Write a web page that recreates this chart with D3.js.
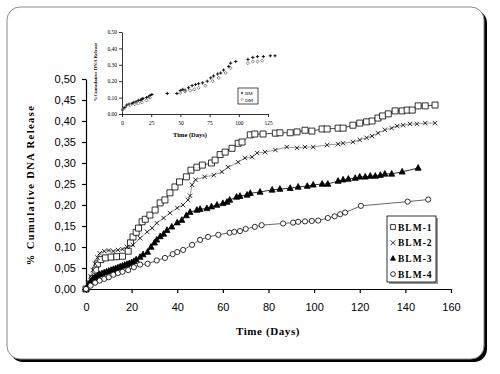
<!DOCTYPE html>
<html>
<head>
<meta charset="utf-8">
<script src="https://cdn.jsdelivr.net/npm/d3@7/dist/d3.min.js"></script>
<style>
  body { margin: 0; background: #fff; }
  svg { display: block; }
</style>
</head>
<body>
<div id="chart"></div>
<script>
var w = 500, h = 374;

// main chart data (days, cumulative fraction)
var blm1Days = [0, 1.5, 3, 4.2, 5, 6.5, 8.5, 11, 13.5, 16, 18.5, 19.5, 20.6, 22, 23, 24.6, 26, 28, 30.3, 32.5, 34.6, 36.8, 39, 41, 44, 46, 48.6, 51, 55, 56.6, 58.8, 61, 64, 66.7, 68.4, 72, 74, 77.6, 83, 85, 89.5, 92.5, 96, 99, 103.5, 105.7, 110.5, 112.7, 117, 120, 123, 125.4, 128, 130, 132.5, 135.5, 138.6, 140.8, 143, 145.6, 148.7, 153];
var blm1Vals = [0, 0.012, 0.025, 0.045, 0.06, 0.07, 0.074, 0.076, 0.077, 0.078, 0.09, 0.11, 0.124, 0.135, 0.145, 0.16, 0.166, 0.176, 0.188, 0.205, 0.212, 0.229, 0.243, 0.255, 0.267, 0.283, 0.29, 0.295, 0.30, 0.307, 0.32, 0.326, 0.335, 0.347, 0.35, 0.367, 0.369, 0.369, 0.371, 0.372, 0.372, 0.374, 0.378, 0.376, 0.381, 0.381, 0.383, 0.383, 0.39, 0.395, 0.398, 0.40, 0.407, 0.412, 0.417, 0.424, 0.424, 0.426, 0.426, 0.436, 0.436, 0.438];

var blm2Days = [0, 1, 2, 3, 4, 5, 6, 8, 10, 12, 14, 16, 18, 20.6, 23.7, 26.8, 29, 31, 34, 36.8, 40, 42.5, 44.7, 45.6, 46.5, 48, 52, 56, 59.6, 62.3, 66.7, 69.7, 72.8, 75, 78.5, 83, 88, 92.5, 96, 99.6, 105.7, 110.5, 112.7, 117, 120, 123, 125.4, 128, 131, 134, 136.4, 139, 142, 145, 148.7, 153];
var blm2Vals = [0, 0.015, 0.03, 0.045, 0.06, 0.075, 0.085, 0.09, 0.092, 0.09, 0.093, 0.095, 0.1, 0.105, 0.121, 0.136, 0.145, 0.157, 0.169, 0.181, 0.193, 0.2, 0.212, 0.222, 0.248, 0.26, 0.267, 0.271, 0.279, 0.29, 0.302, 0.312, 0.314, 0.324, 0.326, 0.331, 0.338, 0.336, 0.338, 0.338, 0.343, 0.345, 0.347, 0.35, 0.355, 0.36, 0.364, 0.371, 0.379, 0.383, 0.388, 0.39, 0.393, 0.393, 0.395, 0.395];

var blm3Days = [0, 1, 2, 3, 4, 5, 6, 7, 8, 9, 10, 11, 12, 13, 14, 15, 16, 17, 18, 19, 20, 21, 22, 23.7, 25, 27, 28.5, 30, 31, 32.5, 34, 35.5, 37.6, 40, 42, 44, 45.6, 48.6, 50, 53, 55, 57.4, 60, 61.8, 63, 66, 67.5, 70.6, 72, 76.3, 81.6, 85, 89.5, 93, 97, 99.6, 103.5, 106, 110.5, 112.7, 115, 118, 120, 122.4, 124.6, 126.8, 129, 131, 134, 138.6, 145.6];
var blm3Vals = [0, 0.01, 0.018, 0.024, 0.028, 0.032, 0.035, 0.037, 0.039, 0.041, 0.043, 0.045, 0.047, 0.049, 0.051, 0.053, 0.055, 0.057, 0.059, 0.061, 0.063, 0.066, 0.07, 0.076, 0.082, 0.088, 0.1, 0.11, 0.117, 0.125, 0.131, 0.14, 0.148, 0.158, 0.164, 0.175, 0.183, 0.188, 0.19, 0.192, 0.196, 0.2, 0.204, 0.207, 0.212, 0.219, 0.221, 0.224, 0.228, 0.231, 0.236, 0.238, 0.24, 0.243, 0.245, 0.248, 0.25, 0.25, 0.257, 0.26, 0.262, 0.264, 0.267, 0.267, 0.269, 0.269, 0.271, 0.274, 0.274, 0.279, 0.288];

var blm4Days = [0, 2, 4, 6, 8, 10, 12, 14, 16, 18.5, 21, 23.7, 27, 31, 34.6, 38, 40, 42.6, 46.5, 50, 53.5, 58, 63, 65, 67.5, 70, 74, 77, 86.4, 90.8, 93, 96, 99, 101.8, 106, 109, 111.4, 113.6, 120.5, 141, 150];
var blm4Vals = [0, 0.008, 0.015, 0.02, 0.024, 0.028, 0.034, 0.038, 0.041, 0.045, 0.052, 0.058, 0.06, 0.068, 0.074, 0.083, 0.088, 0.093, 0.105, 0.117, 0.124, 0.129, 0.134, 0.136, 0.138, 0.143, 0.148, 0.152, 0.156, 0.158, 0.16, 0.161, 0.162, 0.163, 0.169, 0.173, 0.178, 0.182, 0.198, 0.208, 0.213];

var seriesNames = ["BLM-1", "BLM-2", "BLM-3", "BLM-4"];
var xTicks = [0, 20, 40, 60, 80, 100, 120, 140, 160];
var yTicks = [0, 0.05, 0.10, 0.15, 0.20, 0.25, 0.30, 0.35, 0.40, 0.45, 0.50];

// inset data
var insetADays = [1, 2.5, 4, 6, 8.6, 10, 12, 14, 16, 17, 18, 21, 23, 24, 25.6, 38.8, 47, 50, 52, 54, 57, 60, 63, 65.6, 69, 73, 76, 78.4, 81.9, 84.5, 87, 91.4, 93, 97.4, 107.8, 112, 116, 121, 127, 131];
var insetAVals = [0.036, 0.04, 0.054, 0.06, 0.065, 0.07, 0.075, 0.083, 0.085, 0.09, 0.095, 0.1, 0.105, 0.113, 0.119, 0.125, 0.125, 0.143, 0.15, 0.145, 0.16, 0.173, 0.18, 0.185, 0.19, 0.2, 0.22, 0.232, 0.244, 0.25, 0.268, 0.29, 0.31, 0.32, 0.333, 0.345, 0.35, 0.35, 0.355, 0.355];
var insetBDays = [0.5, 1, 7, 11, 14, 17, 21, 24, 50, 54, 58.6, 62, 65.6, 71.5, 77.6, 82.8, 88.8, 93, 107.8, 112, 116, 120];
var insetBVals = [0.025, 0.03, 0.054, 0.06, 0.065, 0.071, 0.083, 0.1, 0.13, 0.137, 0.143, 0.15, 0.16, 0.173, 0.2, 0.22, 0.25, 0.28, 0.31, 0.32, 0.32, 0.325];
var insetNames = ["BM", "DM"];
var insetXTicks = [0, 25, 50, 75, 100, 125];
var insetYTicks = [0, 0.1, 0.2, 0.3, 0.4, 0.5];

var serif = "'Liberation Serif', 'Times New Roman', serif";
var sans = "'Liberation Sans', Arial, sans-serif";
var fmt = function(d) { return d.toFixed(2).replace(".", ","); };

var svg = d3.select("#chart").append("svg")
    .attr("width", w)
    .attr("height", h);

// chart area with rounded corners and black drop shadow
svg.append("rect")
    .attr("x", 10).attr("y", 10)
    .attr("width", 477).attr("height", 352)
    .attr("rx", 13)
    .attr("fill", "#000");
svg.append("rect")
    .attr("x", 7).attr("y", 7)
    .attr("width", 477).attr("height", 352)
    .attr("rx", 13)
    .attr("fill", "#fff")
    .attr("stroke", "#8a8a8a")
    .attr("stroke-width", 1);

// marker shapes
function marker(type, s) {
    if (type == "square") return "M" + (-s) + "," + (-s) + "h" + (2*s) + "v" + (2*s) + "h" + (-2*s) + "Z";
    if (type == "x") return "M" + (-s) + "," + (-s) + "L" + s + "," + s + "M" + (-s) + "," + s + "L" + s + "," + (-s);
    if (type == "plus") return "M" + (-s) + ",0L" + s + ",0M0," + (-s) + "L0," + s;
    if (type == "triangle") return "M0," + (-s*1.15) + "L" + s + "," + (s*0.75) + "L" + (-s) + "," + (s*0.75) + "Z";
    if (type == "diamond") return "M0," + (-s) + "L" + s + ",0L0," + s + "L" + (-s) + ",0Z";
    return d3.symbol().type(d3.symbolCircle).size(Math.PI * s * s)();
}

// ---------- main chart ----------
var xScale = d3.scaleLinear().domain([0, 160]).range([86, 451]);
var yScale = d3.scaleLinear().domain([0, 0.5]).range([289, 79]);

var xAxis = d3.axisBottom(xScale).tickValues(xTicks).tickSize(4).tickSizeOuter(0).tickPadding(10);
var yAxis = d3.axisLeft(yScale).tickValues(yTicks).tickFormat(fmt).tickSize(4).tickSizeOuter(0).tickPadding(6);

var gx = svg.append("g")
    .attr("transform", "translate(0,289)")
    .call(xAxis);
var gy = svg.append("g")
    .attr("transform", "translate(86,0)")
    .call(yAxis);
[gx, gy].forEach(function(g) {
    g.attr("font-family", sans).attr("font-size", 11);
    g.selectAll("path, line").attr("stroke", "#000").attr("stroke-width", 1.2);
    g.selectAll("text").attr("fill", "#000");
});

svg.append("text")
    .attr("x", 268).attr("y", 335)
    .attr("text-anchor", "middle")
    .attr("font-family", serif).attr("font-weight", "bold")
    .attr("font-size", 11).attr("letter-spacing", 0.6)
    .text("Time (Days)");

svg.append("text")
    .attr("transform", "translate(34,185) rotate(-90)")
    .attr("text-anchor", "middle")
    .attr("font-family", serif).attr("font-weight", "bold")
    .attr("font-size", 10.5).attr("letter-spacing", 1.4)
    .text("% Cumulative DNA Release");

var series = [
    {days: blm1Days, vals: blm1Vals, shape: "square", line: "#3a3a3a", fill: "#fff", s: 3},
    {days: blm2Days, vals: blm2Vals, shape: "x", line: "#8c8c8c", fill: "none", s: 2.2},
    {days: blm3Days, vals: blm3Vals, shape: "triangle", line: "#1a1a1a", fill: "#000", s: 3},
    {days: blm4Days, vals: blm4Vals, shape: "circle", line: "#555", fill: "#fff", s: 2.6}
];

var line = d3.line()
    .x(function(d) { return xScale(d[0]); })
    .y(function(d) { return yScale(d[1]); });

series.forEach(function(sr) {
    var pts = d3.zip(sr.days, sr.vals);
    svg.append("path")
        .datum(pts)
        .attr("d", line)
        .attr("fill", "none")
        .attr("stroke", sr.line)
        .attr("stroke-width", 0.9);
    svg.append("g").selectAll("path")
        .data(pts)
        .enter()
        .append("path")
        .attr("transform", function(d) { return "translate(" + xScale(d[0]) + "," + yScale(d[1]) + ")"; })
        .attr("d", marker(sr.shape, sr.s))
        .attr("fill", sr.fill)
        .attr("stroke", "#000")
        .attr("stroke-width", 0.8);
});

// legend
var lg = svg.append("g");
lg.append("rect").attr("x", 389).attr("y", 218).attr("width", 49).attr("height", 66).attr("fill", "#9a9a9a");
lg.append("rect").attr("x", 387).attr("y", 216).attr("width", 49).attr("height", 66)
    .attr("fill", "#fff").attr("stroke", "#000").attr("stroke-width", 0.8);
seriesNames.forEach(function(name, i) {
    var yy = 227 + i * 15.7;
    lg.append("path")
        .attr("transform", "translate(393," + yy + ")")
        .attr("d", marker(series[i].shape, 2.4))
        .attr("fill", series[i].fill)
        .attr("stroke", "#000")
        .attr("stroke-width", 0.8);
    lg.append("text")
        .attr("x", 398).attr("y", yy + 3.5)
        .attr("font-family", serif).attr("font-weight", "bold")
        .attr("font-size", 9.5).attr("letter-spacing", 1)
        .text(name);
});

// ---------- inset chart ----------
var ix = d3.scaleLinear().domain([0, 125]).range([122, 268]);
var iy = d3.scaleLinear().domain([0, 0.5]).range([114, 32]);

var igx = svg.append("g")
    .attr("transform", "translate(0,114)")
    .call(d3.axisBottom(ix).tickValues(insetXTicks).tickSize(3).tickSizeOuter(0).tickPadding(4));
var igy = svg.append("g")
    .attr("transform", "translate(122,0)")
    .call(d3.axisLeft(iy).tickValues(insetYTicks).tickFormat(fmt).tickSize(3).tickSizeOuter(0).tickPadding(2));
[igx, igy].forEach(function(g) {
    g.attr("font-family", serif).attr("font-size", 5.5);
    g.selectAll("path, line").attr("stroke", "#000").attr("stroke-width", 0.8);
    g.selectAll("text").attr("fill", "#000");
});

svg.append("text")
    .attr("x", 190).attr("y", 137)
    .attr("text-anchor", "middle")
    .attr("font-family", serif).attr("font-weight", "bold")
    .attr("font-size", 6.5)
    .text("Time (Days)");

svg.append("text")
    .attr("transform", "translate(97,72) rotate(-90)")
    .attr("text-anchor", "middle")
    .attr("font-family", serif).attr("font-weight", "bold")
    .attr("font-size", 5)
    .text("%Cumulative DNA Release");

var insetSeries = [
    {days: insetADays, vals: insetAVals, shape: "plus", color: "#000", s: 1.6},
    {days: insetBDays, vals: insetBVals, shape: "diamond", color: "#777", s: 1.6}
];
insetSeries.forEach(function(sr) {
    svg.append("g").selectAll("path")
        .data(d3.zip(sr.days, sr.vals))
        .enter()
        .append("path")
        .attr("transform", function(d) { return "translate(" + ix(d[0]) + "," + iy(d[1]) + ")"; })
        .attr("d", marker(sr.shape, sr.s))
        .attr("fill", "none")
        .attr("stroke", sr.color)
        .attr("stroke-width", 0.9);
});

var ilg = svg.append("g");
ilg.append("rect").attr("x", 238).attr("y", 88).attr("width", 20).attr("height", 16)
    .attr("fill", "#fff").attr("stroke", "#000").attr("stroke-width", 0.7);
insetNames.forEach(function(name, i) {
    var yy = 93 + i * 6.5;
    ilg.append("path")
        .attr("transform", "translate(242," + yy + ")")
        .attr("d", marker(insetSeries[i].shape, 1.2))
        .attr("fill", "none")
        .attr("stroke", insetSeries[i].color)
        .attr("stroke-width", 0.7);
    ilg.append("text")
        .attr("x", 245).attr("y", yy + 2)
        .attr("font-family", serif).attr("font-size", 5)
        .text(name);
});
</script>
</body>
</html>
